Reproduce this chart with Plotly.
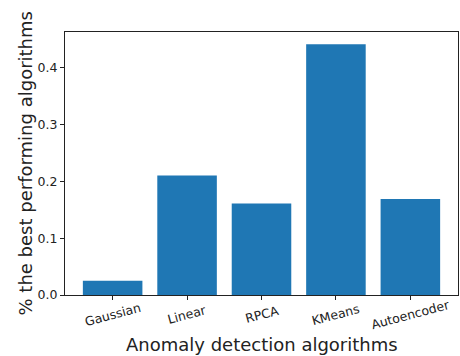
import plotly.graph_objects as go

categories = ["Gaussian", "Linear", "RPCA", "KMeans", "Autoencoder"]
values = [0.025, 0.21, 0.161, 0.441, 0.169]
y_ticks = [0.0, 0.1, 0.2, 0.3, 0.4]

fig = go.Figure(go.Bar(
    x=list(range(len(categories))),
    y=values,
    width=0.8,
    marker=dict(color="#1f77b4", line=dict(width=0)),
))

font_family = "DejaVu Sans"
tick_size = 12.5
annotations = []
for i, name in enumerate(categories):
    annotations.append(dict(
        x=i, xref="x", y=0, yref="paper", yshift=-19,
        text=name, showarrow=False, textangle=-15,
        xanchor="center", yanchor="middle",
        font=dict(size=tick_size, family=font_family, color="#222"),
    ))
annotations.append(dict(
    x=0.5, xref="paper", y=0, yref="paper", yshift=-49,
    text="Anomaly detection algorithms", showarrow=False,
    xanchor="center", yanchor="middle",
    font=dict(size=18, family=font_family, color="#222"),
))
annotations.append(dict(
    x=0, xref="paper", y=0.5, yref="paper", xshift=-40,
    text="% the best performing algorithms", showarrow=False, textangle=-90,
    xanchor="center", yanchor="middle",
    font=dict(size=18, family=font_family, color="#222"),
))

fig.update_layout(
    width=460, height=356,
    margin=dict(l=65, r=2, t=32, b=61),
    paper_bgcolor="white", plot_bgcolor="white",
    font=dict(family=font_family, color="#222", size=tick_size),
    showlegend=False,
    annotations=annotations,
    xaxis=dict(
        range=[-0.64, 4.64], automargin=False,
        tickmode="array", tickvals=list(range(len(categories))), ticktext=categories,
        showticklabels=False,
        ticks="outside", ticklen=4, tickcolor="#222", tickwidth=1,
        showline=True, linecolor="#222", linewidth=1, mirror=True,
        showgrid=False, zeroline=False,
    ),
    yaxis=dict(
        range=[0, 0.4625], automargin=False,
        tickmode="array", tickvals=y_ticks, ticktext=[f"{v:.1f}" for v in y_ticks],
        ticks="outside", ticklen=4, tickcolor="#222", tickwidth=1,
        showline=True, linecolor="#222", linewidth=1, mirror=True,
        showgrid=False, zeroline=False,
    ),
)

fig.write_html("out.html", config={"displayModeBar": False},
               post_script="document.body.style.margin='0';")
